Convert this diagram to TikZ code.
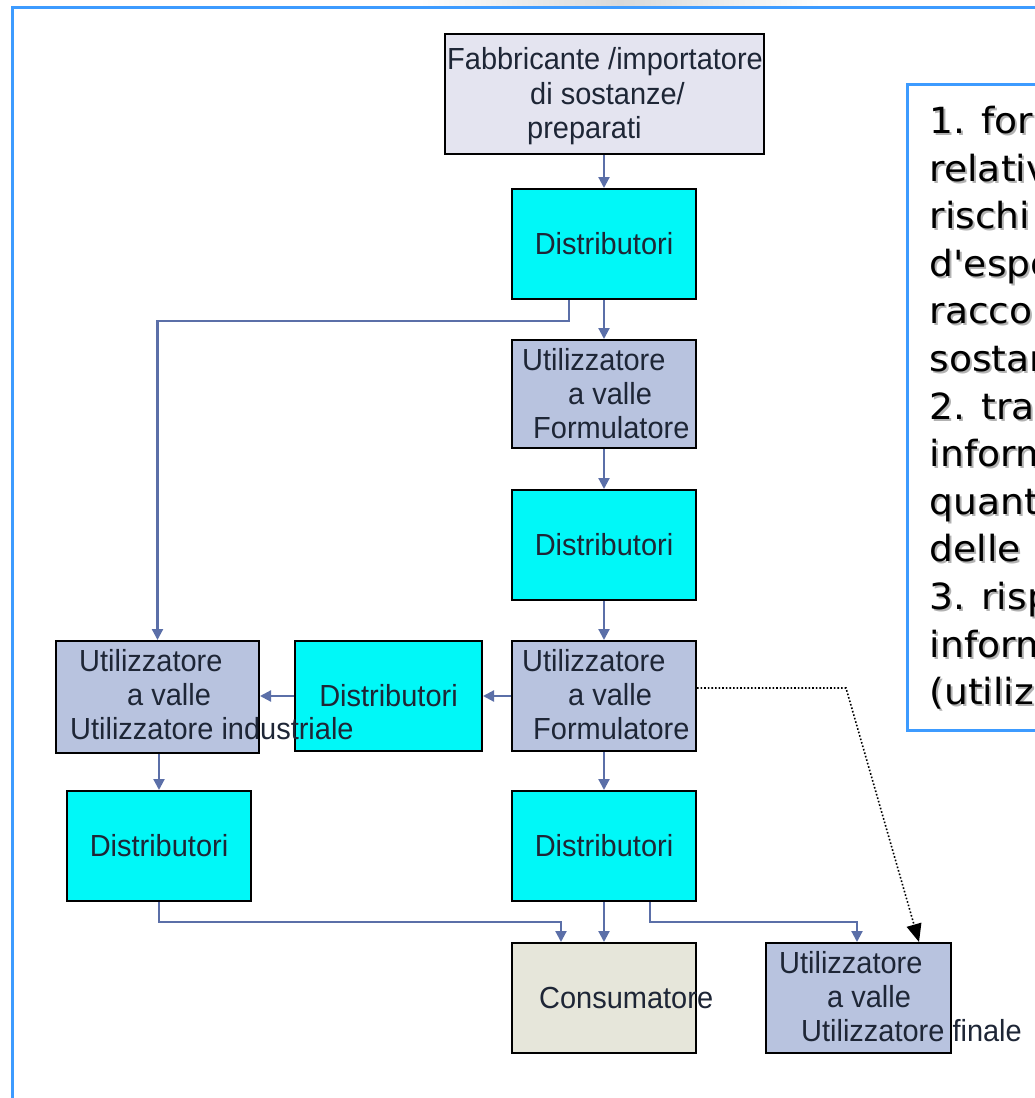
\documentclass[tikz,border=0pt]{standalone}
\usepackage{fontspec}
\setmainfont{Liberation Sans}[FakeStretch=0.95]
\newfontfamily\notefont{DejaVu Sans}[FakeStretch=1.045]
\usetikzlibrary{arrows.meta}

\definecolor{frameblue}{HTML}{3D9BFF}
\definecolor{linkblue}{HTML}{5B6FA8}
\definecolor{prodfill}{HTML}{E4E4F0}
\definecolor{distfill}{HTML}{00F8F8}
\definecolor{userfill}{HTML}{B8C3DF}
\definecolor{consfill}{HTML}{E6E6DA}
\definecolor{boxtext}{HTML}{1E2636}

\newcommand\boxfont{\fontsize{30.5}{35}\selectfont}

\begin{document}
\begin{tikzpicture}[x=1pt,y=-1pt,
  abox/.style={draw=black, line width=2pt, inner sep=0pt, anchor=north west,
               minimum width=184pt, minimum height=110pt},
  pbox/.style={abox, fill=prodfill},
  dbox/.style={abox, fill=distfill},
  ubox/.style={abox, fill=userfill},
  cbox/.style={abox, fill=consfill},
  lbl/.style={font=\boxfont, text=boxtext, inner sep=0pt, anchor=base west},
  dlbl/.style={font=\boxfont, text=boxtext, inner sep=0pt},
  notetxt/.style={font=\notefont\fontsize{36}{43}\selectfont, inner sep=0pt, anchor=base west},
  link/.style={draw=linkblue, line width=2.2pt, -{Triangle[length=11pt,width=11pt]}},
  hint/.style={draw=black, line width=1.6pt, dotted, -{Triangle[length=18pt,width=15pt]}}
]
\clip (0,0) rectangle (1035,1098);

% page frame
\shade[left color=white, right color=white, middle color=black!15] (420,0) rectangle (820,5);
\draw[frameblue, line width=3pt] (12,1110) -- (12,7) -- (1045,7);

% boxes of the supply chain
\node[pbox, minimum width=319pt, minimum height=120pt] (fab) at (444,33) {};
\node[dbox] (d1) at (511,188) {};
\node[ubox, minimum height=108pt] (uf1) at (511,339) {};
\node[dbox] (d2) at (511,489) {};
\node[ubox] (uf2) at (511,640) {};
\node[dbox, minimum width=187pt] (d3) at (294,640) {};
\node[ubox, minimum width=203pt, minimum height=112pt] (uind) at (55,640) {};
\node[dbox] (d4) at (66,790) {};
\node[dbox] (d5) at (511,790) {};
\node[cbox] (cons) at (511,942) {};
\node[ubox, minimum width=185pt] (ufin) at (765,942) {};

% labels
\node[lbl] (fabA) at (447,69) {Fabbricante /importatore};
\node[lbl] (fabB) at (530,104) {di sostanze/};
\node[lbl] (fabC) at (527,138) {preparati};

\node[dlbl] (d1t) at (d1) {Distributori};
\node[dlbl] (d2t) at (d2) {Distributori};
\node[dlbl] (d3t) at (d3) {Distributori};
\node[dlbl] (d4t) at (d4) {Distributori};
\node[dlbl] (d5t) at (d5) {Distributori};

\node[lbl] (uf1A) at (522,370) {Utilizzatore};
\node[lbl] (uf1B) at (568,404) {a valle};
\node[lbl] (uf1C) at (533,438) {Formulatore};

\node[lbl] (uf2A) at (522,671) {Utilizzatore};
\node[lbl] (uf2B) at (568,705) {a valle};
\node[lbl] (uf2C) at (533,739) {Formulatore};

\node[lbl] (uindA) at (79,671) {Utilizzatore};
\node[lbl] (uindB) at (127,705) {a valle};
\node[lbl] (uindC) at (70,739) {Utilizzatore industriale};

\node[lbl] (consA) at (539,1008) {Consumatore};

\node[lbl] (ufinA) at (779,973) {Utilizzatore};
\node[lbl] (ufinB) at (827,1007) {a valle};
\node[lbl] (ufinC) at (801,1041) {Utilizzatore finale};

% junction points of the elbow connectors
\coordinate (j1) at (569,321);
\coordinate (j2) at (561,922);
\coordinate (j3) at (650,922);
\coordinate (j4) at (857,922);
\coordinate (k1) at (846,688);
\coordinate (k2) at (919,0);

% connectors
\draw[link] (fab.south -| d1.north) -- (d1.north);
\draw[link] (d1.south) -- (uf1.north);
\draw[link] (d1.south -| j1) -- (j1) -| (uind.north);
\draw[link] (uf1.south) -- (d2.north);
\draw[link] (d2.south) -- (uf2.north);
\draw[link] (uf2.west) -- (d3.east);
\draw[link] (d3.west) -- (uind.east |- d3.west);
\draw[link] (d4.north |- uind.south) -- (d4.north);
\draw[link] (uf2.south) -- (d5.north);
\draw[link] (d4.south) |- (j2) -- (cons.north -| j2);
\draw[link] (d5.south) -- (cons.north);
\draw[link] (d5.south -| j3) -- (j3) -- (j4) -- (ufin.north -| j4);
\draw[hint] (uf2.east |- k1) -- (k1) -- (ufin.north -| k2);

% note box on the right
\node[draw=frameblue, line width=2.5pt, anchor=north west, inner sep=0pt,
      minimum width=200pt, minimum height=646pt] (note) at (906,83) {};
\foreach \txt [count=\k from 0] in {{1. fornire}, {relative}, {rischi}, {d'esposizione},
    {raccomandazioni}, {sostanze}, {2. trasmettere}, {informazioni}, {quantità}, {delle},
    {3. rispondere}, {informazioni}, {(utilizzatori}}
{
  \node[notetxt, text=black!30] (ns\k) at (931.5,{135.5+47.6*\k}) {\txt};
  \node[notetxt, text=black] (nt\k) at (929.5,{133.5+47.6*\k}) {\txt};
}
\end{tikzpicture}
\end{document}
